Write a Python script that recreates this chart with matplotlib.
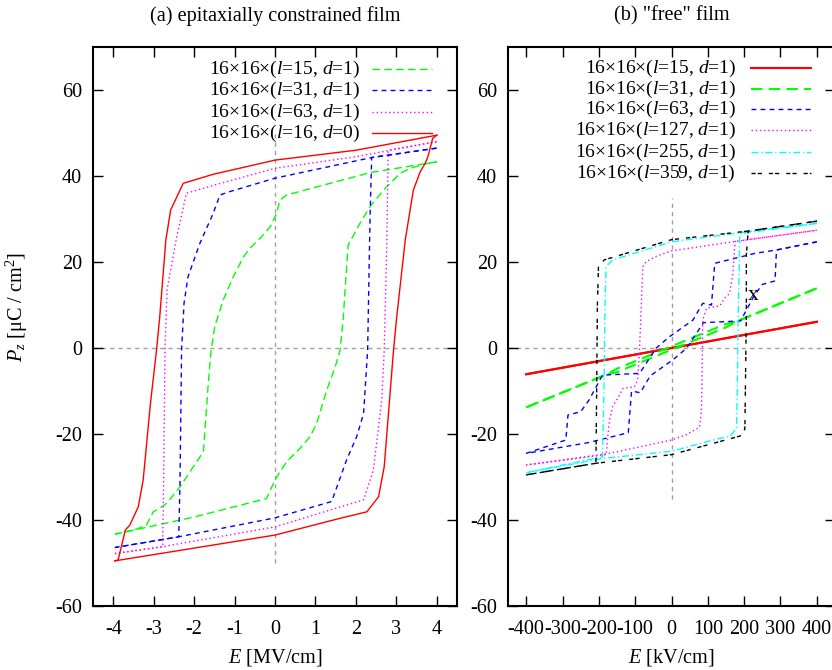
import numpy as np
import matplotlib
matplotlib.use("Agg")
import matplotlib.pyplot as plt

# ---------------- fonts ----------------
plt.rcParams['font.family'] = ['Liberation Serif', 'DejaVu Serif']
plt.rcParams['mathtext.fontset'] = 'custom'
plt.rcParams['mathtext.rm'] = 'Liberation Serif'
plt.rcParams['mathtext.it'] = 'Liberation Serif:italic'
plt.rcParams['axes.unicode_minus'] = False
FS = 14.6
KEY_FS = 14

# ---------------- data: (a) epitaxially constrained film, E in MV/cm ----------------
a15_dn_E = [4.0, 2.35, 0.29, 0.12, 0.04, -0.12, -0.37, -0.62, -0.78, -1.03, -1.28, -1.49,
            -1.58, -1.65, -1.77, -2.02, -2.35, -2.68, -2.85, -3.01, -3.18, -3.42, -3.96]
a15_dn_P = [43.3, 40.8, 35.6, 34.4, 31.3, 28.2, 25.5, 23.2, 21.2, 16.6, 11.2, 5.0,
            -0.5, -8.2, -24.1, -27.6, -32.3, -36.1, -37.3, -38.1, -41.2, -42.1, -43.3]
a15_up_E = [-3.96, -2.0, -0.21, -0.04, 0.04, 0.29, 0.62, 0.87, 1.03, 1.28, 1.49, 1.61,
            1.69, 1.77, 1.81, 2.10, 2.35, 2.68, 3.09, 3.34, 3.75, 4.0]
a15_up_P = [-43.3, -39.3, -35.0, -31.5, -30.0, -26.4, -23.3, -20.6, -17.5, -9.8, -4.3, -0.5,
            7.3, 18.9, 24.0, 29.0, 32.9, 36.7, 40.6, 41.8, 42.9, 43.3]

a31_dn_E = [4.0, 2.39, 0.0, -1.11, -1.36, -1.53, -1.86, -2.15, -2.25, -2.31, -2.35, -2.38, -3.96]
a31_dn_P = [46.5, 44.3, 39.5, 36.4, 35.6, 31.3, 24.3, 16.6, 10.4, -0.5, -31.5, -43.9, -46.4]
a31_up_E = [-3.96, -2.38, 0.0, 1.40, 1.53, 1.77, 2.02, 2.19, 2.29, 2.35, 2.39, 4.0]
a31_up_P = [-46.4, -43.9, -39.5, -35.7, -32.3, -26.0, -20.6, -15.2, -0.5, 30.5, 44.3, 46.5]

a63_dn_E = [4.0, 2.0, 0.0, -1.5, -2.19, -2.43, -2.67, -2.72, -2.76, -2.78, -3.96]
a63_dn_P = [48.0, 44.5, 41.8, 37.9, 36.0, 25.9, 13.5, -0.5, -35.3, -46.2, -47.8]
a63_up_E = [-3.96, -2.78, 0.0, 2.19, 2.43, 2.64, 2.70, 2.76, 2.80, 4.0]
a63_up_P = [-47.8, -46.2, -41.6, -35.3, -28.4, -12.1, -0.5, 22.8, 46.0, 48.0]

a16_dn_E = [4.0, 2.0, 0.0, -1.53, -2.27, -2.58, -2.70, -2.85, -2.93, -3.08, -3.26, -3.38,
            -3.59, -3.70, -3.88, -3.96]
a16_dn_P = [49.5, 46.0, 43.7, 40.4, 38.3, 32.1, 25.1, 7.3, -0.5, -12.9, -30.7, -36.9,
            -41.2, -42.3, -49.3, -49.5]
a16_up_E = [-3.96, 0.0, 1.61, 2.27, 2.56, 2.70, 2.93, 3.01, 3.22, 3.34, 3.42, 3.59, 3.71,
            3.78, 3.90, 4.0]
a16_up_P = [-49.5, -43.5, -39.6, -38.1, -34.6, -27.6, -0.5, 7.3, 25.1, 32.1, 36.7, 41.0, 42.9,
            44.5, 48.8, 49.5]

# ---------------- data: (b) "free" film, E in kV/cm ----------------
b15_dn_E = [400, -400]
b15_dn_P = [6.1, -6.1]
b15_up_E = [-400, 400]
b15_up_P = [-6.1, 6.1]

b31_dn_E = [400, 180, 150, -150, -180, -400]
b31_dn_P = [13.9, 6.2, 5.6, -4.8, -6.2, -13.8]
b31_up_E = [-400, -180, -150, 150, 180, 400]
b31_up_P = [-13.8, -6.2, -5.6, 4.8, 6.2, 13.9]

b63_dn_E = [400, 289, 285, 250, 227, 190, 88, 42, 6, -59, -86, -110, -119, -229, -400]
b63_dn_P = [24.7, 22.8, 15.6, 14.8, 12.1, 6.3, 5.9, 0.0, -2.6, -6.5, -10.4, -10.0, -19.7, -22.0, -24.5]
b63_up_E = [-400, -291, -285, -250, -227, -190, -88, -42, -6, 59, 86, 110, 119, 229, 289, 400]
b63_up_P = [-24.5, -21.4, -15.6, -14.8, -12.1, -6.3, -5.9, 0.0, 2.6, 6.5, 10.4, 10.0, 19.7, 22.0, 22.8, 24.7]

b127_dn_E = [400, 169, 0, -40, -70, -79, -84, -88, -93, -102, -134, -148, -162, -171, -176, -180, -400]
b127_dn_P = [27.4, 24.7, 22.6, 21.4, 20.1, 18.9, 8.1, 0.0, -7.4, -9.0, -9.4, -11.7, -13.6, -17.0, -21.0, -24.8, -27.2]
b127_up_E = [-400, -171, 0, 40, 77, 82, 84, 86, 96, 110, 133, 146, 160, 169, 174, 176, 400]
b127_up_P = [-27.2, -24.5, -21.4, -20.2, -18.4, -15.0, -7.4, 6.5, 9.2, 9.5, 9.8, 11.6, 12.7, 17.4, 23.6, 24.8, 27.4]

b255_dn_E = [400, 206, 0, -162, -180, -183, -186, -190, -400]
b255_dn_P = [29.0, 27.0, 24.7, 20.5, 18.9, 10.0, -10.0, -25.3, -29.0]
b255_up_E = [-400, -190, 0, 133, 160, 179, 181, 183, 188, 400]
b255_up_P = [-29.0, -25.7, -24.0, -21.0, -20.6, -18.7, -10.0, 5.0, 26.6, 29.0]

b359_dn_E = [400, 211, 0, -185, -201, -204, -206, -208, -400]
b359_dn_P = [29.5, 27.2, 25.2, 20.5, 18.9, 10.0, -10.0, -26.8, -29.5]
b359_up_E = [-400, -208, 0, 183, 197, 202, 206, 206, 211, 400]
b359_up_P = [-29.5, -26.8, -24.8, -20.6, -20.2, -18.7, 8.1, 21.6, 27.2, 29.5]

y_ticks = [-60, -40, -20, 0, 20, 40, 60]
a_ticks = [-4, -3, -2, -1, 0, 1, 2, 3, 4]
b_ticks = [-400, -300, -200, -100, 0, 100, 200, 300, 400]

# ---------------- styles ----------------
GREEN_DASH = (0, (5.5, 3))
BLUE_DASH = (0, (3.5, 3))
DOTS = (0, (1, 2))
DASHDOT = (0, (5, 2, 1, 2))
BLACK_DASH = (0, (3, 1.5, 3, 5))
ZERO_DASH = (0, (3, 3))

a_series = [
    ("16×16×($l$=15, $d$=1)", "#00ff00", GREEN_DASH, 1.0, a15_dn_E, a15_dn_P, a15_up_E, a15_up_P),
    ("16×16×($l$=31, $d$=1)", "#0000ff", BLUE_DASH, 1.0, a31_dn_E, a31_dn_P, a31_up_E, a31_up_P),
    ("16×16×($l$=63, $d$=1)", "#ff00ff", DOTS, 1.0, a63_dn_E, a63_dn_P, a63_up_E, a63_up_P),
    ("16×16×($l$=16, $d$=0)", "#ff0000", "-", 1.0, a16_dn_E, a16_dn_P, a16_up_E, a16_up_P),
]
b_series = [
    ("16×16×($l$=15, $d$=1)", "#ff0000", "-", 1.5, b15_dn_E, b15_dn_P, b15_up_E, b15_up_P),
    ("16×16×($l$=31, $d$=1)", "#00ff00", GREEN_DASH, 1.5, b31_dn_E, b31_dn_P, b31_up_E, b31_up_P),
    ("16×16×($l$=63, $d$=1)", "#0000ff", BLUE_DASH, 1.0, b63_dn_E, b63_dn_P, b63_up_E, b63_up_P),
    ("16×16×($l$=127, $d$=1)", "#ff00ff", DOTS, 1.0, b127_dn_E, b127_dn_P, b127_up_E, b127_up_P),
    ("16×16×($l$=255, $d$=1)", "#00ffff", DASHDOT, 1.0, b255_dn_E, b255_dn_P, b255_up_E, b255_up_P),
    ("16×16×($l$=359, $d$=1)", "#000000", BLACK_DASH, 1.0, b359_dn_E, b359_dn_P, b359_up_E, b359_up_P),
]


def setup_axes(ax, xlim, xticks, zero_span, title, xlabel):
    ax.set_xlim(*xlim)
    ax.set_ylim(-60, 70)
    ax.set_xticks(xticks)
    ax.set_yticks(y_ticks)
    ax.tick_params(direction='in', length=7, width=1, top=True, right=True,
                   labelsize=FS, pad=8)
    ax.tick_params(axis='x', pad=10)
    for sp in ax.spines.values():
        sp.set_linewidth(1.5)
    # zero axes
    ax.axhline(0, color='#a0a0a0', lw=1, ls=ZERO_DASH, zorder=0)
    ax.plot([0, 0], zero_span, color='#a0a0a0', lw=1, ls=ZERO_DASH, zorder=0)
    ax.text(0.5, 1.056, title, transform=ax.transAxes, ha='center', va='center', fontsize=FS)
    ax.set_xlabel(xlabel, fontsize=FS)
    ax.xaxis.set_label_coords(0.5, -0.073)


def draw_loops(ax, series, x_text, x0, x1, ys):
    for (label, color, ls, lw, dE, dP, uE, uP), y in zip(series, ys):
        ax.plot(dE, dP, color=color, ls=ls, lw=lw)
        ax.plot(uE, uP, color=color, ls=ls, lw=lw)
        # key entry (gnuplot style: text right aligned, sample on the right)
        ax.text(x_text, y, label, transform=ax.transAxes, ha='right', va='center',
                fontsize=KEY_FS)
        ax.plot([x0, x1], [y, y], transform=ax.transAxes, color=color, ls=ls, lw=lw)


fig = plt.figure(figsize=(8.32, 6.70), dpi=100)
ax1 = fig.add_axes([0.1118, 0.0955, 0.4375, 0.8343])
ax2 = fig.add_axes([0.6106, 0.0955, 0.3930, 0.8343])

setup_axes(ax1, (-4.5, 4.5), a_ticks, [-50, 50], "(a) epitaxially constrained film", "$E$ [MV/cm]")
setup_axes(ax2, (-450, 450), b_ticks, [-35, 35], '(b) "free" film', "$E$ [kV/cm]")

draw_loops(ax1, a_series, 0.7335, 0.7665, 0.931, [0.9606, 0.9231, 0.8837, 0.8462])
draw_loops(ax2, b_series, 0.697, 0.743, 0.927,
           [0.9624, 0.9249, 0.8891, 0.8515, 0.8122, 0.7746])

ax2.text(224, 12.3, "x", ha='center', va='center', fontsize=FS + 1)

ax1.set_ylabel(r"$P_z$ [μC / cm$^2$]", fontsize=FS)
ax1.yaxis.set_label_coords(-0.173, 0.535)

fig.savefig("out.png", dpi=100)
